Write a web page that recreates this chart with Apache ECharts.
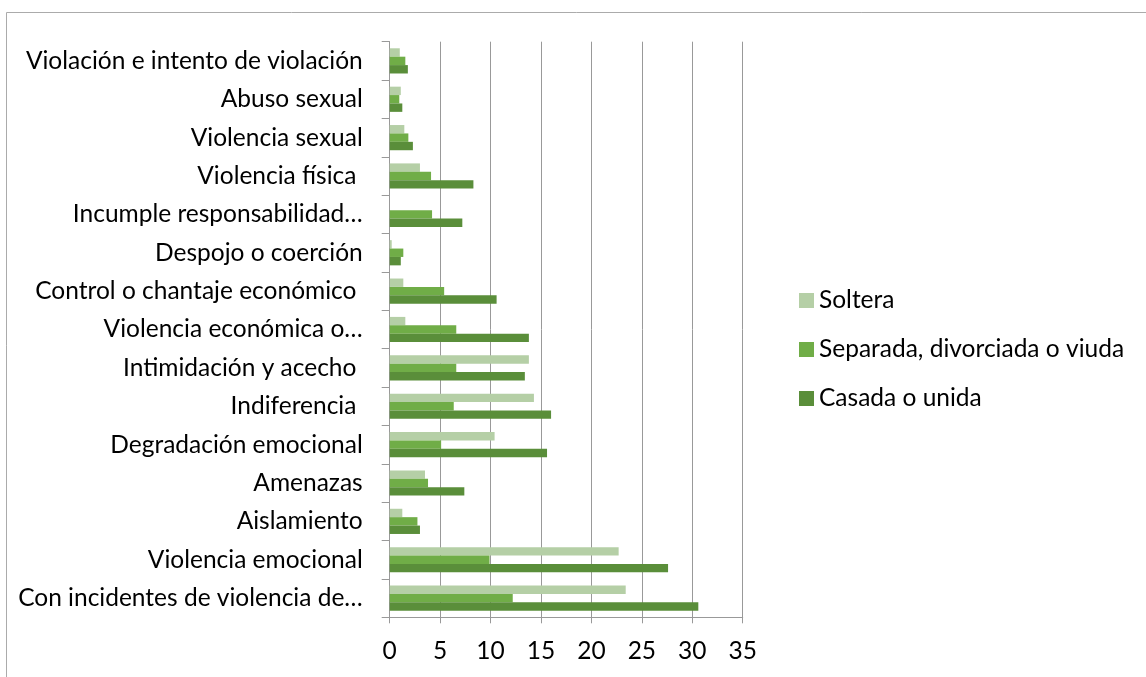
<!DOCTYPE html>
<html>
<head>
<meta charset="utf-8">
<script src="https://cdn.jsdelivr.net/npm/echarts@6/dist/echarts.min.js"></script>
<style>html,body{margin:0;padding:0;background:#fff;}#c{width:1146px;height:677px;}</style>
</head>
<body>
<div id="c"></div>
<script>
// Categories listed top to bottom as in the reference
const categories = [
  'Violación e intento de violación',
  'Abuso sexual',
  'Violencia sexual',
  'Violencia física ',
  'Incumple responsabilidad…',
  'Despojo o coerción',
  'Control o chantaje económico ',
  'Violencia económica o…',
  'Intimidación y acecho ',
  'Indiferencia ',
  'Degradación emocional',
  'Amenazas',
  'Aislamiento',
  'Violencia emocional',
  'Con incidentes de violencia de…'
];
const seriesNames = ['Soltera', 'Separada, divorciada o viuda', 'Casada o unida'];
const soltera   = [1.0, 1.1, 1.45, 3.0, 0, 0.2, 1.35, 1.55, 13.8, 14.3, 10.4, 3.5, 1.25, 22.7, 23.4];
const separada  = [1.55, 0.95, 1.85, 4.1, 4.2, 1.35, 5.4, 6.6, 6.6, 6.35, 5.1, 3.8, 2.75, 9.9, 12.2];
const casada    = [1.8, 1.25, 2.3, 8.3, 7.2, 1.1, 10.6, 13.8, 13.4, 16.0, 15.6, 7.4, 3.0, 27.6, 30.6];
const valueTicks = [0, 5, 10, 15, 20, 25, 30, 35];

const colors = ['#B5CFA6', '#70AD47', '#5A8E3A'];
const fontFam = 'Lato';
const fs = 24.5;
const chart = echarts.init(document.getElementById('c'));
const mk = (name, data, i) => ({
  name, type: 'bar', data,
  barWidth: 8.4, barGap: '0%', barCategoryGap: '34%',
  itemStyle: { color: colors[i] },
  emphasis: { disabled: true }
});
chart.setOption({
  animation: false,
  backgroundColor: '#fff',
  graphic: [{
    type: 'rect', silent: true,
    shape: { x: 6.5, y: 12.5, width: 1200, height: 700 },
    style: { fill: 'none', stroke: '#ABABAB', lineWidth: 1 }
  }],
  grid: { left: 389.7, right: 403.3, top: 41.7, bottom: 59.7, containLabel: false },
  legend: {
    orient: 'vertical', left: 794, top: 283, itemGap: 24,
    itemWidth: 15, itemHeight: 15, icon: 'rect',
    data: seriesNames,
    textStyle: { fontFamily: fontFam, fontSize: fs, color: '#000' }
  },
  xAxis: {
    type: 'value', min: valueTicks[0], max: valueTicks[valueTicks.length - 1], interval: 5,
    axisLine: { show: true, lineStyle: { color: '#999', width: 1 } },
    axisTick: { show: true, length: 6, lineStyle: { color: '#999' } },
    splitLine: { show: true, lineStyle: { color: '#999', width: 1 } },
    axisLabel: { margin: 21, fontFamily: fontFam, fontSize: fs, color: '#000' }
  },
  yAxis: {
    type: 'category', data: categories, inverse: true,
    axisLine: { show: true, lineStyle: { color: '#999', width: 1 } },
    axisTick: { show: true, length: 8, lineStyle: { color: '#999' } },
    axisLabel: { margin: 27, fontFamily: fontFam, fontSize: fs, color: '#000', interval: 0 }
  },
  series: [mk(seriesNames[0], soltera, 0), mk(seriesNames[1], separada, 1), mk(seriesNames[2], casada, 2)]
});
</script>
</body>
</html>
